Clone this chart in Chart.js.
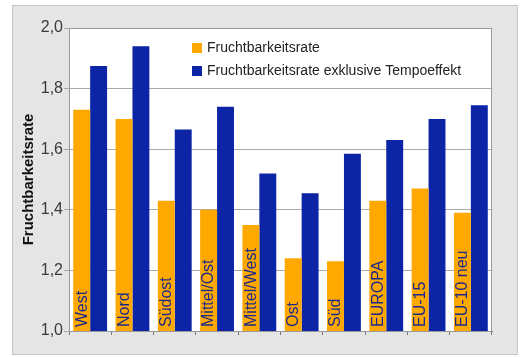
<!DOCTYPE html>
<html>
<head>
<meta charset="utf-8">
<script src="https://cdn.jsdelivr.net/npm/chart.js@4.4.1/dist/chart.umd.min.js"></script>
<style>
  html, body { margin: 0; padding: 0; background: #fff; }
  #wrap { width: 523px; height: 357px; position: relative; }
</style>
</head>
<body>
<div id="wrap"><canvas id="chart"></canvas></div>
<script>
// Regionen und Fruchtbarkeitsraten
const regionen = ['West', 'Nord', 'Südost', 'Mittel/Ost', 'Mittel/West', 'Ost', 'Süd', 'EUROPA', 'EU-15', 'EU-10 neu'];
const rate = [1.73, 1.70, 1.43, 1.40, 1.35, 1.24, 1.23, 1.43, 1.47, 1.39];
const rateOhneTempo = [1.875, 1.94, 1.665, 1.74, 1.52, 1.455, 1.585, 1.63, 1.70, 1.745];
const yTicks = [1.0, 1.2, 1.4, 1.6, 1.8, 2.0];

const ORANGE = '#ffa800';
const BLAU = '#0b25a6';

// grauer Rahmen um das Diagramm, weiße Zeichenfläche
const panel = {
    id: 'panel',
    beforeDraw(chart) {
        const { ctx, chartArea: a } = chart;
        ctx.save();
        ctx.fillStyle = '#e5e5e5';
        ctx.fillRect(12, 5, 506, 350);
        ctx.strokeStyle = '#c4c4c4';
        ctx.lineWidth = 1;
        ctx.strokeRect(12.5, 5.5, 505, 349);
        ctx.fillStyle = '#fff';
        ctx.fillRect(a.left, a.top, a.right - a.left, a.bottom - a.top);
        ctx.restore();
    },
    afterDraw(chart) {
        const { ctx, chartArea: a } = chart;
        ctx.save();
        ctx.strokeStyle = '#999';
        ctx.lineWidth = 1;
        ctx.strokeRect(a.left + 0.5, a.top + 0.5, a.right - a.left - 1, a.bottom - a.top);
        ctx.restore();
    }
};

// Regionsnamen senkrecht in die orangen Balken schreiben
const balkenLabels = {
    id: 'balkenLabels',
    afterDatasetsDraw(chart) {
        const { ctx, chartArea: a } = chart;
        const meta = chart.getDatasetMeta(0);
        ctx.save();
        ctx.font = '16px "Liberation Sans", Arial, sans-serif';
        ctx.fillStyle = '#1b2a8a';
        ctx.textAlign = 'left';
        ctx.textBaseline = 'middle';
        meta.data.forEach((bar, i) => {
            ctx.save();
            ctx.translate(bar.x + 0.5, a.bottom - 4);
            ctx.rotate(-Math.PI / 2);
            ctx.fillText(regionen[i], 0, 0);
            ctx.restore();
        });
        ctx.restore();
    }
};

// Legende oben rechts in der Zeichenfläche
const legende = {
    id: 'legende',
    afterDraw(chart) {
        const { ctx, chartArea: a } = chart;
        ctx.save();
        ctx.font = '14px "Liberation Sans", Arial, sans-serif';
        ctx.textBaseline = 'middle';
        chart.data.datasets.forEach((ds, i) => {
            const y = a.top + 15 + i * 23;
            ctx.fillStyle = ds.backgroundColor;
            ctx.fillRect(a.left + 123, y, 10, 10);
            ctx.fillStyle = '#222';
            ctx.fillText(ds.label, a.left + 138, y + 5);
        });
        ctx.restore();
    }
};

new Chart(document.getElementById('chart'), {
    type: 'bar',
    data: {
        labels: regionen,
        datasets: [
            { label: 'Fruchtbarkeitsrate', data: rate, backgroundColor: ORANGE },
            { label: 'Fruchtbarkeitsrate exklusive Tempoeffekt', data: rateOhneTempo, backgroundColor: BLAU }
        ]
    },
    options: {
        responsive: true,
        maintainAspectRatio: false,
        animation: false,
        devicePixelRatio: 1,
        layout: { padding: { left: 0, right: 31, top: 28, bottom: 0 } },
        datasets: { bar: { categoryPercentage: 0.8, barPercentage: 1.0 } },
        plugins: {
            legend: { display: false },
            tooltip: { enabled: false }
        },
        scales: {
            x: {
                ticks: { display: false },
                grid: { drawOnChartArea: false, tickLength: 4, color: '#777', offset: true },
                border: { color: '#777' },
                afterFit: (scale) => { scale.height = 26; }
            },
            y: {
                min: 1.0,
                max: 2.0,
                afterBuildTicks: (scale) => { scale.ticks = yTicks.map(v => ({ value: v })); },
                ticks: {
                    padding: 1,
                    color: '#3a3a3a',
                    font: { family: '"Liberation Sans", Arial, sans-serif', size: 16 },
                    callback: (v) => Number(v).toFixed(1).replace('.', ',')
                },
                grid: { color: '#aaa', tickLength: 5 },
                border: { color: '#888' },
                title: {
                    display: true,
                    text: 'Fruchtbarkeitsrate',
                    color: '#111',
                    font: { family: '"Liberation Sans", Arial, sans-serif', size: 15, weight: 'bold' },
                    padding: { top: 20, bottom: 0 }
                },
                afterFit: (scale) => { scale.width = 69; }
            }
        }
    },
    plugins: [panel, balkenLabels, legende]
});
</script>
</body>
</html>
